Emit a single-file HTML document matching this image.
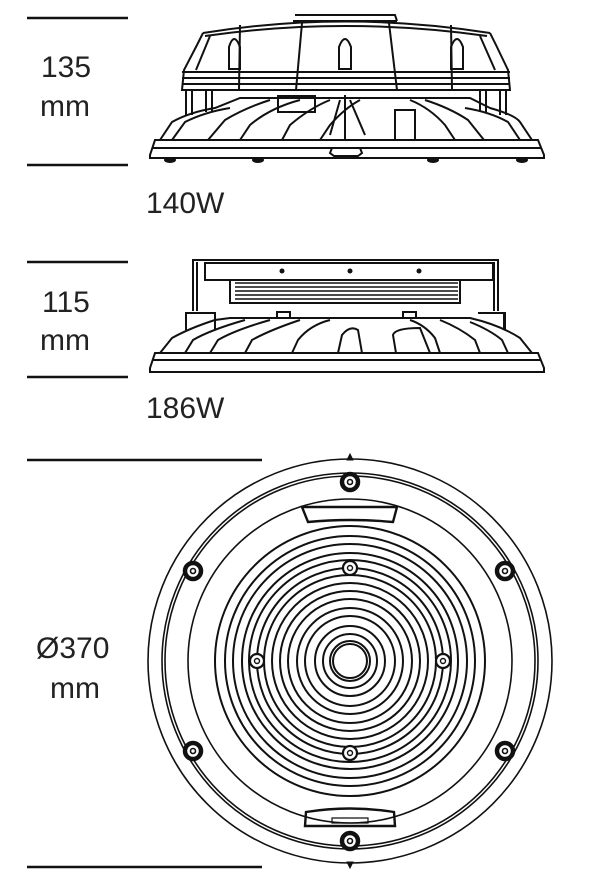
<!DOCTYPE html>
<html><head><style>
html,body{margin:0;padding:0;background:#fff;}
svg{display:block}
text{font-family:"Liberation Sans",Arial,sans-serif;fill:#222;}
</style></head><body>
<svg width="600" height="893" viewBox="0 0 600 893" xmlns="http://www.w3.org/2000/svg">
<g stroke="#111" stroke-width="2.4" fill="none">
<line x1="27" y1="18" x2="128" y2="18"/>
<line x1="27" y1="165" x2="128" y2="165"/>
<line x1="27" y1="262" x2="128" y2="262"/>
<line x1="27" y1="377" x2="128" y2="377"/>
<line x1="27" y1="460" x2="262" y2="460"/>
<line x1="27" y1="867" x2="262" y2="867"/>
</g>
<g font-size="30">
<text x="41" y="77">135</text>
<text x="40" y="116">mm</text>
<text x="146" y="213">140W</text>
<text x="42" y="312">115</text>
<text x="40" y="350">mm</text>
<text x="146" y="418">186W</text>
<text x="36" y="658">Ø370</text>
<text x="50" y="698">mm</text>
</g>

<!-- Top fixture 140W -->
<g stroke="#111" stroke-width="2" fill="none">
<path d="M295 15 H395 L397 21 M293 21 H397"/>
<path d="M203 33 Q345 10 490 33"/>
<path d="M205 36 Q345 16 487 36"/>
<path d="M203 33 L197 45 L184 70 L182 90 H510 L508 70 L496 45 L490 33"/>
<path d="M210 36 L196 70 M480 36 L495 70"/>
<path d="M182 72 H510 M182 78 H510 M182 84 H510"/>
<path d="M240 25 L239 90 M302 23 L296 90 M389 23 L397 90 M451 25 L452 90"/>
<path d="M229 69 V47 Q234 31 240 47 V69 Z"/>
<path d="M339 69 V47 Q345 31 351 47 V69 Z"/>
<path d="M451 69 V47 Q457 31 463 47 V69 Z"/>
<path d="M186 90 V115 M192 90 V115 M206 90 V112 M212 90 V112 M480 90 V112 M486 90 V112 M500 90 V115 M506 90 V115"/>
<path d="M160 140 L172 122 Q190 112 215 108 L240 98 H470 L490 108 Q515 115 520 122 L532 140"/>
<path d="M172 140 L185 122 Q205 112 230 108 M208 140 L225 120 Q245 108 270 100 M240 140 L250 125 Q270 108 300 100 M282 140 L290 125 Q310 108 330 100 M320 140 L330 125 Q345 108 360 100"/>
<path d="M520 140 L508 122 Q490 112 465 108 M484 140 L468 120 Q450 108 425 100 M455 140 L445 125 Q430 108 410 100"/>
<path d="M278 96 H315 V112 H278 Z M395 110 H415 V140 H395 Z"/>
<path d="M345 95 V140 M340 100 L330 135 M350 100 L365 135"/>
<path d="M155 140 H538 L544 155 V158 H150 V155 Z"/>
<path d="M152 148 H541"/>
<path d="M332 148 H360 L362 153 L358 156 H334 L330 153 Z"/>
</g>
<g fill="#111">
<ellipse cx="170" cy="160" rx="6" ry="3"/>
<ellipse cx="258" cy="160" rx="6" ry="3"/>
<ellipse cx="433" cy="160" rx="6" ry="3"/>
<ellipse cx="522" cy="160" rx="6" ry="3"/>
</g>

<!-- 186W -->
<g stroke="#111" stroke-width="2" fill="none">
<path d="M193 311 V260 H498 V311"/>
<path d="M197 311 V262 M494 311 V262"/>
<path d="M205 263 H493 V280 H205 Z"/>
<path d="M230 280 V303 H460 V280"/>
<path d="M235 283 H458 M235 287 H458 M235 291 H458 M235 295 H458 M235 299 H458" stroke-width="1.4"/>
<path d="M185 313 H215 V330 M478 313 H505 V330 M186 313 V330 M504 313 V330"/>
<path d="M277 312 H290 V318 H277 Z M403 312 H416 V318 H403 Z"/>
<path d="M160 353 L172 338 Q190 328 215 320 L230 318 H470 Q500 325 520 338 L532 353"/>
<path d="M185 353 L193 340 Q210 330 245 320 M210 353 L218 340 Q235 330 270 320 M245 353 L252 340 Q270 330 300 320 M292 353 L298 340 Q310 325 330 320 M338 353 L342 335 Q350 325 358 330 L362 353"/>
<path d="M396 353 L393 335 Q395 328 420 328 L430 353 M440 353 L435 338 Q425 325 410 320 M480 353 L475 340 Q460 328 440 320 M508 353 L502 340 Q490 330 470 322"/>
<path d="M155 353 H538 L544 368 V372 H150 V368 Z M152 360 H541"/>
</g>
<g fill="#111">
<circle cx="282" cy="271" r="2.5"/><circle cx="350" cy="271" r="2.5"/><circle cx="419" cy="271" r="2.5"/>
</g>

<!-- Circle view -->
<g stroke="#111" stroke-width="1.6" fill="none">
<circle cx="350" cy="661" r="202"/>
<circle cx="350" cy="661" r="188"/>
<circle cx="350" cy="661" r="185"/>
<circle cx="350" cy="661" r="162"/>
<g stroke-width="2">
<circle cx="350" cy="661" r="135"/><circle cx="350" cy="661" r="125"/><circle cx="350" cy="661" r="117"/>
<circle cx="350" cy="661" r="108"/><circle cx="350" cy="661" r="101"/><circle cx="350" cy="661" r="93"/>
<circle cx="350" cy="661" r="86"/><circle cx="350" cy="661" r="78"/><circle cx="350" cy="661" r="70"/>
<circle cx="350" cy="661" r="62"/><circle cx="350" cy="661" r="53"/><circle cx="350" cy="661" r="45"/>
<circle cx="350" cy="661" r="35"/><circle cx="350" cy="661" r="27"/><circle cx="350" cy="661" r="20"/>
<circle cx="350" cy="661" r="17"/>
</g>
<path d="M302 507 H397 L393 522 Q350 518 308 522 Z" stroke-width="2.4"/>
<path d="M306 812 Q350 805 394 812 L395 826 H305 Z" stroke-width="2.4"/>
<path d="M332 818 H368 V823 H332 Z" stroke-width="1.2"/>
</g>
<g fill="#111" stroke="#111">
<path d="M350 454 L353 460 L347 460 Z"/>
<path d="M350 868 L353 862 L347 862 Z"/>
</g>
<g fill="#fff" stroke="#111">
<g stroke-width="4.5"><circle cx="350" cy="482" r="8"/><circle cx="193" cy="571" r="8"/><circle cx="505" cy="571" r="8"/><circle cx="193" cy="751" r="8"/><circle cx="505" cy="751" r="8"/><circle cx="350" cy="841" r="8"/></g>
<g stroke-width="1.6"><circle cx="350" cy="482" r="2.5"/><circle cx="193" cy="571" r="2.5"/><circle cx="505" cy="571" r="2.5"/><circle cx="193" cy="751" r="2.5"/><circle cx="505" cy="751" r="2.5"/><circle cx="350" cy="841" r="2.5"/></g>
<g stroke-width="2.2"><circle cx="350" cy="568" r="7"/><circle cx="350" cy="753" r="7"/><circle cx="257" cy="661" r="7"/><circle cx="443" cy="661" r="7"/></g>
<g stroke-width="1.4"><circle cx="350" cy="568" r="2.5"/><circle cx="350" cy="753" r="2.5"/><circle cx="257" cy="661" r="2.5"/><circle cx="443" cy="661" r="2.5"/></g>
</g>
</svg>
</body></html>
